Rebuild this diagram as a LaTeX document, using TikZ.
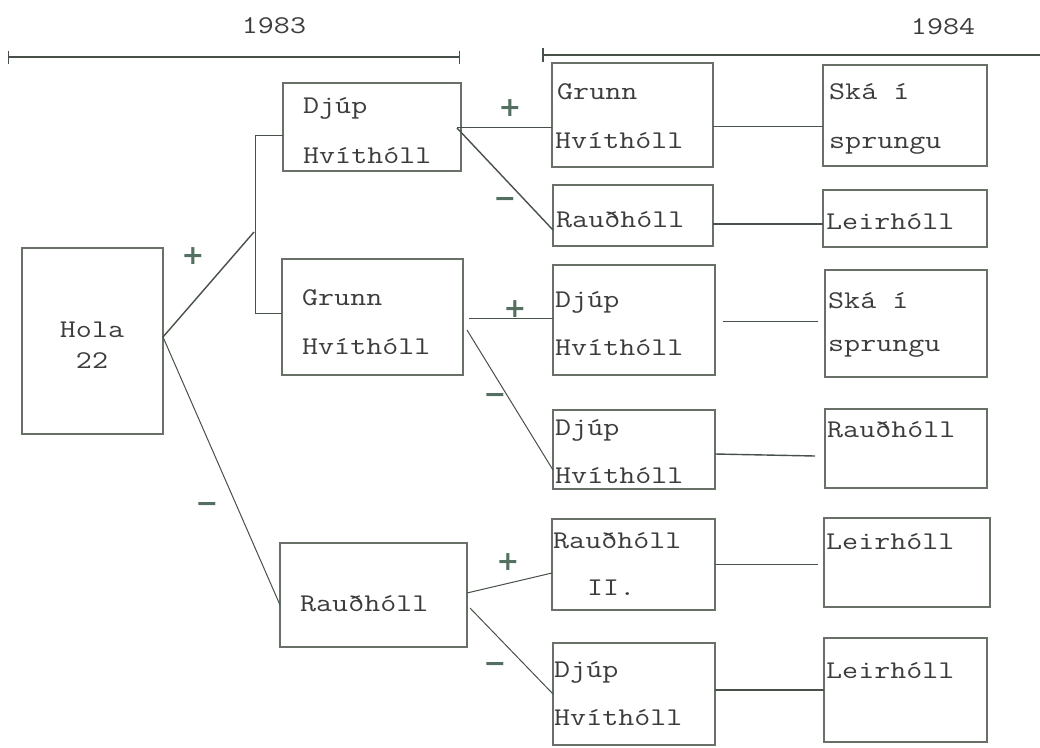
\documentclass[tikz,border=0pt]{standalone}
\usepackage{fontspec}
\newfontfamily\twfont[FakeStretch=1.22]{Latin Modern Mono}
\newfontfamily\signfont{DejaVu Sans}
\usetikzlibrary{arrows.meta,calc}
\definecolor{boxcol}{RGB}{105,112,104}
\definecolor{linecol}{RGB}{72,80,74}
\definecolor{signcol}{RGB}{84,112,96}
\definecolor{txtcol}{RGB}{60,60,60}
\begin{document}
\begin{tikzpicture}[x=1pt,y=-1pt,
  box/.style={draw=boxcol,line width=1.1pt,inner sep=0pt,outer sep=0pt,anchor=north west},
  lbl/.style={anchor=base west,inner sep=0pt,text=txtcol,font=\fontsize{25.5}{30}\selectfont\twfont},
  yr/.style={inner sep=0pt,text=txtcol,font=\fontsize{25.5}{30}\selectfont\twfont},
  sign/.style={inner sep=0pt,text=signcol,font=\fontsize{27}{30}\selectfont\signfont\bfseries},
  conn/.style={draw=linecol,line width=1pt},
  bold conn/.style={draw=linecol,line width=1.4pt}]
\useasboundingbox (0,0) rectangle (1040,747);

% timelines
\node[yr] (y83) at (274,26) {1983};
\node[yr] (y84) at (943,27) {1984};
\coordinate (t1a) at (8,57);
\coordinate (t1b) at (460,57);
\coordinate (t2a) at (542,55);
\coordinate (t2b) at (1040,55);
\draw[linecol,line width=1.4pt,{Bar[width=13pt]}-{Bar[width=13pt]}] (t1a) -- (t1b);
\draw[linecol,line width=2.2pt,{Bar[width=14pt]}-] (t2a) -- (t2b);

% boxes
\node[box,minimum width=141pt,minimum height=186pt] (holaB) at (22,248) {};
\node[box,minimum width=178pt,minimum height=88pt] (djupA) at (283,83) {};
\node[box,minimum width=181pt,minimum height=116pt] (grunnA) at (282,259) {};
\node[box,minimum width=187pt,minimum height=104pt] (rauA) at (280,543) {};

\node[box,minimum width=161pt,minimum height=104pt] (grunn1) at (552,63) {};
\node[box,minimum width=164pt,minimum height=101pt] (ska1) at (823,65) {};
\node[box,minimum width=160pt,minimum height=61pt] (rau2) at (553,185) {};
\node[box,minimum width=164pt,minimum height=57pt] (leir2) at (823,190) {};
\node[box,minimum width=162pt,minimum height=110pt] (djup3) at (553,265) {};
\node[box,minimum width=162pt,minimum height=107pt] (ska3) at (825,270) {};
\node[box,minimum width=162pt,minimum height=79pt] (djup4) at (553,410) {};
\node[box,minimum width=162pt,minimum height=79pt] (rau4) at (825,409) {};
\node[box,minimum width=163pt,minimum height=91pt] (rau5) at (552,519) {};
\node[box,minimum width=166pt,minimum height=89pt] (leir5) at (824,518) {};
\node[box,minimum width=162pt,minimum height=102pt] (djup6) at (553,643) {};
\node[box,minimum width=163pt,minimum height=104pt] (leir6) at (824,638) {};

% texts
\node[yr,anchor=base] (tHola) at (92,337) {Hola};
\node[yr,anchor=base] (t22) at (92,368) {22};
\node[lbl] (tA1) at (303,113) {Djúp};
\node[lbl] (tA2) at (303,163) {Hvíthóll};
\node[lbl] (tB1) at (302,305) {Grunn};
\node[lbl] (tB2) at (302,354) {Hvíthóll};
\node[lbl] (tC1) at (300,611) {Rauðhóll};

\node[lbl] (t11) at (557,99) {Grunn};
\node[lbl] (t12) at (555,148) {Hvíthóll};
\node[lbl] (t13) at (829,99) {Ská í};
\node[lbl] (t14) at (829,148) {sprungu};
\node[lbl] (t21) at (556,227) {Rauðhóll};
\node[lbl] (t22b) at (826,229) {Leirhóll};
\node[lbl] (t31) at (555,307) {Djúp};
\node[lbl] (t32) at (555,355) {Hvíthóll};
\node[lbl] (t33) at (828,308) {Ská í};
\node[lbl] (t34) at (828,351) {sprungu};
\node[lbl] (t41) at (555,435) {Djúp};
\node[lbl] (t42) at (555,483) {Hvíthóll};
\node[lbl] (t43) at (827,437) {Rauðhóll};
\node[lbl] (t51) at (553,548) {Rauðhóll};
\node[lbl] (t52) at (587,595) {II.};
\node[lbl] (t53) at (826,549) {Leirhóll};
\node[lbl] (t61) at (554,677) {Djúp};
\node[lbl] (t62) at (554,725) {Hvíthóll};
\node[lbl] (t63) at (826,678) {Leirhóll};

% signs
\node[sign] (s1) at (193,256) {+};
\node[sign] (s2) at (207,507) {−};
\node[sign] (s3) at (510,108) {+};
\node[sign] (s4) at (505,202) {−};
\node[sign] (s5) at (515,309) {+};
\node[sign] (s6) at (495,398) {−};
\node[sign] (s7) at (508,562) {+};
\node[sign] (s8) at (495,667) {−};

% connectors
\coordinate (bj) at (254,232);
\draw[conn] ([yshift=-8pt]djupA.west) -- ++(-28,0) |- ([yshift=4pt]grunnA.west);
\draw[bold conn] ([yshift=4pt]holaB.east) -- (bj);
\draw[conn] ([yshift=4pt]holaB.east) -- ([yshift=-10pt]rauA.west);

\draw[conn] ([xshift=-4pt]djupA.east) -- (djupA.east -| grunn1.west);
\draw[bold conn] ([xshift=-4pt,yshift=-1pt]djupA.east) -- ([yshift=-14.5pt]rau2.west);
\draw[conn] ([yshift=-11pt]grunn1.east) -- ([yshift=-11pt]grunn1.east -| ska1.west);
\draw[bold conn] ([yshift=-8.5pt]rau2.east) -- ([yshift=-8.5pt]rau2.east -| leir2.west);

\draw[conn] ([xshift=6pt,yshift=-1pt]grunnA.east) -- ([yshift=-1pt]grunnA.east -| djup3.west);
\draw[conn] ([xshift=4pt,yshift=-13pt]grunnA.east) -- ([yshift=-20.5pt]djup4.west);
\coordinate (c3a) at ([xshift=8pt,yshift=-1pt]djup3.east);
\coordinate (c3b) at ([xshift=-7pt,yshift=-1pt]djup3.east -| ska3.west);
\draw[conn] (c3a) -- (c3b);
\coordinate (c4b) at ([xshift=-10pt,yshift=-7.5pt]rau4.west);
\draw[bold conn] ([yshift=-4.5pt]djup4.east) -- (c4b);

\draw[conn] ([yshift=2pt]rauA.east) -- ([yshift=-8.5pt]rau5.west);
\draw[conn] ([xshift=3pt,yshift=-13pt]rauA.east) -- (djup6.west);
\coordinate (c5b) at ([xshift=-6pt]rau5.east -| leir5.west);
\draw[conn] (rau5.east) -- (c5b);
\draw[bold conn] ([yshift=4pt]djup6.east) -- ([yshift=4pt]djup6.east -| leir6.west);
\end{tikzpicture}
\end{document}
